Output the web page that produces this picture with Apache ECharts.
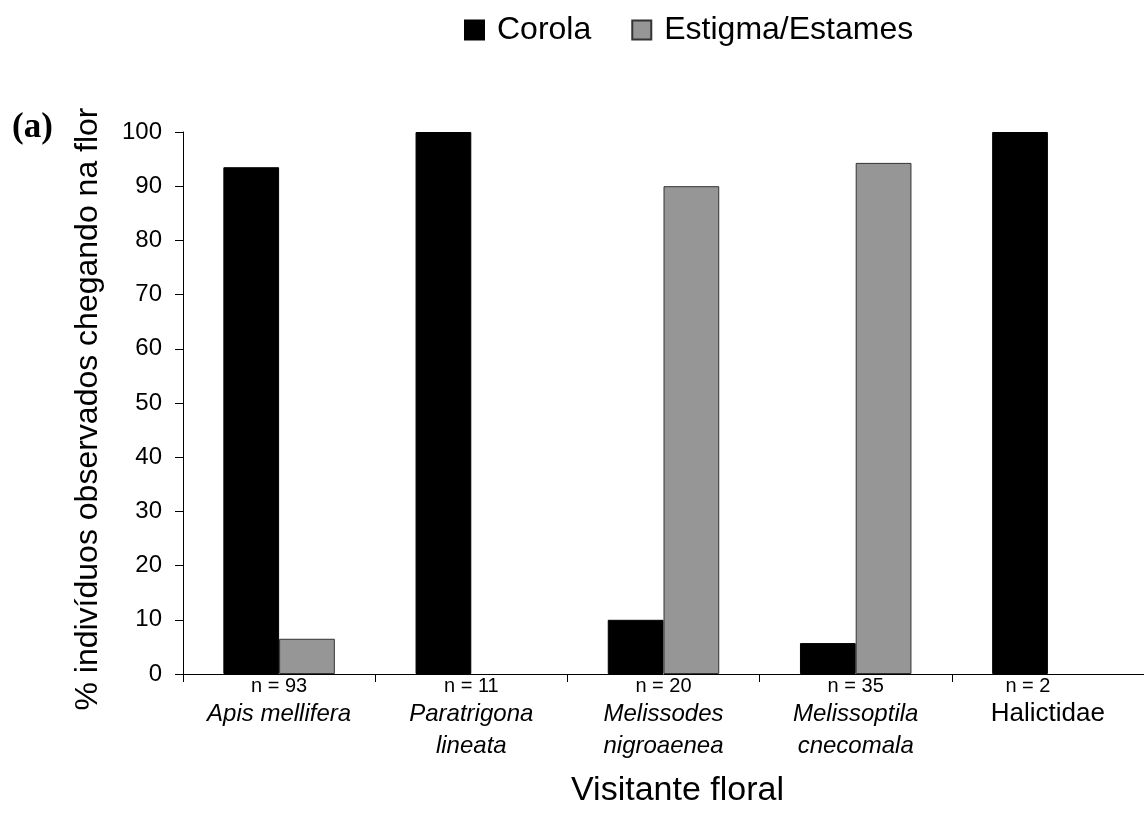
<!DOCTYPE html>
<html><head><meta charset="utf-8">
<script src="https://cdn.jsdelivr.net/npm/echarts@6/dist/echarts.min.js"></script>
<style>html,body{margin:0;padding:0;background:#fff}#c{width:1144px;height:820px}</style>
</head><body><div id="c"></div>
<script>
const categories = ['Apis mellifera', 'Paratrigona\nlineata', 'Melissodes\nnigroaenea', 'Melissoptila\ncnecomala', 'Halictidae'];
const sampleSizes = ['n = 93', 'n = 11', 'n = 20', 'n = 35', 'n = 2'];
const italicNames = [true, true, true, true, false];
const corola = [93.5, 100, 10, 5.7, 100];
const estigma = [6.5, 0, 90, 94.3, 0];
const seriesNames = ['Corola', 'Estigma/Estames'];

const FONT = '"Liberation Sans", Arial, sans-serif';
function toData(arr) {
  return arr.map(v => v === 0 ? {value: v, itemStyle: {borderWidth: 0}} : v);
}
const chart = echarts.init(document.getElementById('c'), null, {renderer: 'canvas'});
chart.setOption({
  animation: false,
  backgroundColor: '#fff',
  textStyle: {fontFamily: FONT, color: '#000'},
  legend: {
    top: 9, left: 459,
    icon: 'rect',
    itemWidth: 19, itemHeight: 19, itemGap: 40,
    textStyle: {fontSize: 32, fontFamily: FONT, color: '#000', padding: [0, 0, 0, 8]},
    data: seriesNames
  },
  graphic: [{
    type: 'text', x: 12, y: 128,
    style: {text: '(a)', font: 'bold 35px "Liberation Serif", "Times New Roman", serif', fill: '#000',
            align: 'left', verticalAlign: 'middle'}
  }, {
    type: 'text', x: 88, y: 409, rotation: Math.PI / 2,
    style: {text: '% indivíduos observados chegando na flor', font: '32px ' + FONT, fill: '#000',
            align: 'center', verticalAlign: 'middle'}
  }],
  grid: {left: 183, right: 0, top: 132, bottom: 146},
  xAxis: {
    type: 'category',
    data: categories,
    name: 'Visitante floral',
    nameLocation: 'middle', nameGap: 100,
    nameTextStyle: {fontSize: 34, fontFamily: FONT, color: '#000', padding: [0, 0, 0, 28]},
    axisLine: {lineStyle: {color: '#000', width: 1}},
    axisTick: {show: true, length: 8, lineStyle: {color: '#000'}},
    axisLabel: {
      interval: 0, margin: 0, color: '#000',
      formatter: function (v, i) {
        const lines = v.split('\n').map(s => (italicNames[i] ? '{i|' : '{r|') + s + '}').join('\n');
        const nStyle = i === categories.length - 1 ? 'm' : 'n';
        return '{' + nStyle + '|' + sampleSizes[i] + '}\n' + lines;
      },
      rich: {
        n: {fontSize: 20, lineHeight: 24, fontFamily: FONT, color: '#000'},
        m: {fontSize: 20, lineHeight: 24, fontFamily: FONT, color: '#000', padding: [0, 40, 0, 0]},
        i: {fontSize: 24, lineHeight: 32, fontStyle: 'italic', fontFamily: FONT, color: '#000'},
        r: {fontSize: 26, lineHeight: 32, fontFamily: FONT, color: '#000'}
      }
    },
    splitLine: {show: false}
  },
  yAxis: {
    type: 'value', min: 0, max: 100, interval: 10,
    axisLine: {show: true, lineStyle: {color: '#000', width: 1}},
    axisTick: {show: true, length: 8, lineStyle: {color: '#000'}},
    axisLabel: {fontSize: 24, margin: 21, color: '#000', fontFamily: FONT},
    splitLine: {show: false}
  },
  series: [
    {name: seriesNames[0], type: 'bar', data: toData(corola), barGap: '0%', barCategoryGap: '42%',
     itemStyle: {color: '#000', borderColor: '#000', borderWidth: 1}},
    {name: seriesNames[1], type: 'bar', data: toData(estigma), barGap: '0%', barCategoryGap: '42%',
     itemStyle: {color: '#969696', borderColor: '#333', borderWidth: 1}}
  ]
});
</script></body></html>
